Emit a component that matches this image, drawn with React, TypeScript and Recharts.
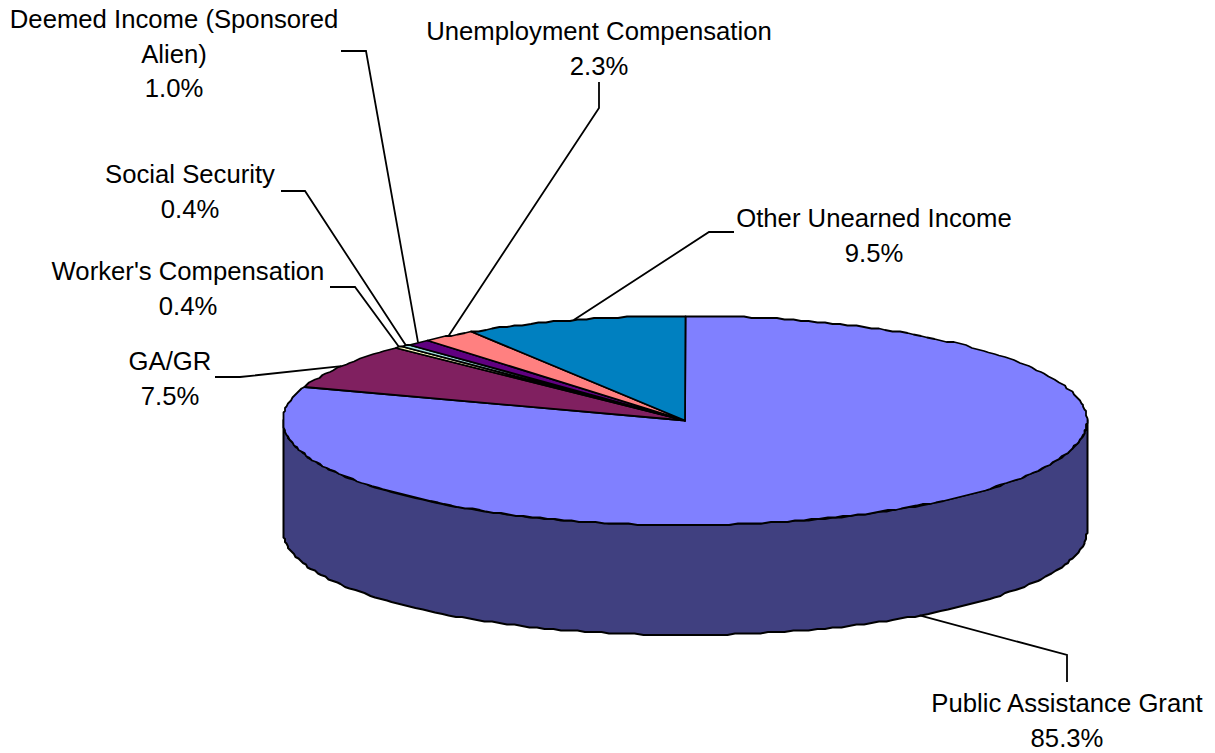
import { PieChart, Pie, Cell } from "recharts";

const categories = [
  "Public Assistance Grant",
  "GA/GR",
  "Worker's Compensation",
  "Social Security",
  "Deemed Income (Sponsored|Alien)",
  "Unemployment Compensation",
  "Other Unearned Income",
];
const shares = [85.3, 7.5, 0.4, 0.4, 1.0, 2.3, 9.5];
const sliceColors = ["#8080FF", "#802060", "#FFFFC0", "#A0E0E0", "#600080", "#FF8080", "#0080C0"];

// label placement: text centre, first baseline, then the elbow of the leader line
const labelX = [1067, 170, 188, 190, 174, 599, 874];
const labelY = [712, 370, 280, 183, 28, 40, 227];
const leaderStart = [
  [1067, 682],
  [215, 377],
  [330, 287],
  [281, 191],
  [341, 51],
  [599, 82],
  [734, 232],
];
const leaderElbow = [
  [1067, 655],
  [240, 377],
  [355, 287],
  [305, 191],
  [366, 51],
  [599, 108],
  [709, 232],
];

const WALL_COLOR = "#404080";
const SQUASH = 104.5 / 402; // tilt of the disc
const DEPTH = 110;
const RAD = Math.PI / 180;
const LINE_HEIGHT = 34.5;

const data = categories.map((name, i) => ({ name, value: shares[i] }));

// the old metafile had coarse coordinates, so arcs come out slightly jagged
const snap = (v: number) => Math.round(v / 1.5) * 1.5;

function arcPoints(cx: number, cy: number, r: number, from: number, to: number, dy = 0) {
  const steps = Math.max(1, Math.ceil(Math.abs(to - from) / 1.2));
  const pts: string[] = [];
  for (let i = 0; i <= steps; i++) {
    const a = (from + ((to - from) * i) / steps) * RAD;
    pts.push(`${snap(cx + r * Math.cos(a))},${snap(cy - r * SQUASH * Math.sin(a)) + dy}`);
  }
  return pts;
}

function DiscSlice(props: any) {
  const { cx, cy, outerRadius, startAngle, endAngle, fill } = props;
  const hi = Math.max(startAngle, endAngle);
  const lo = Math.min(startAngle, endAngle);
  // front half of the rim is where the angle is between -180 and 0
  const wallHi = Math.min(hi, 0);
  const wallLo = Math.max(lo, -180);
  const top = arcPoints(cx, cy, outerRadius, startAngle, endAngle);
  return (
    <g>
      {wallHi > wallLo && (
        <polygon
          points={[
            ...arcPoints(cx, cy, outerRadius, wallHi, wallLo),
            ...arcPoints(cx, cy, outerRadius, wallLo, wallHi, DEPTH),
          ].join(" ")}
          fill={WALL_COLOR}
          stroke="#000"
          strokeWidth={2}
          strokeLinejoin="round"
        />
      )}
      <polygon
        points={[`${cx},${cy}`, ...top].join(" ")}
        fill={fill}
        stroke="#000"
        strokeWidth={1.8}
        strokeLinejoin="round"
      />
    </g>
  );
}

function SliceLabel(props: any) {
  const { cx, cy, outerRadius, midAngle, index, name, value } = props;
  const a = midAngle * RAD;
  const px = cx + outerRadius * Math.cos(a);
  const py = cy - outerRadius * SQUASH * Math.sin(a) + (Math.sin(a) < 0 ? DEPTH : 0);
  const lines = [...String(name).split("|"), `${Number(value).toFixed(1)}%`];
  const pts = [leaderStart[index], leaderElbow[index], [px, py]].map((p) => p.join(",")).join(" ");
  return (
    <g>
      <polyline points={pts} fill="none" stroke="#000" strokeWidth={1.8} />
      <text
        x={labelX[index]}
        y={labelY[index]}
        textAnchor="middle"
        fontFamily="Liberation Sans"
        fontSize={25.7}
        fill="#000"
      >
        {lines.map((l, i) => (
          <tspan key={i} x={labelX[index]} dy={i === 0 ? 0 : LINE_HEIGHT}>
            {l}
          </tspan>
        ))}
      </text>
    </g>
  );
}

export default function App() {
  return (
    <div style={{ position: "absolute", left: 0, top: 0, width: 1215, height: 753 }}>
      <PieChart width={1215} height={753} margin={{ top: 0, right: 0, bottom: 0, left: 0 }}>
        <Pie
          data={data}
          dataKey="value"
          nameKey="name"
          cx={685}
          cy={420.5}
          outerRadius={402}
          startAngle={90}
          endAngle={-270}
          stroke="#000"
          shape={DiscSlice}
          label={SliceLabel}
          labelLine={false}
          isAnimationActive={false}
        >
          {sliceColors.map((c) => (
            <Cell key={c} fill={c} />
          ))}
        </Pie>
      </PieChart>
    </div>
  );
}
